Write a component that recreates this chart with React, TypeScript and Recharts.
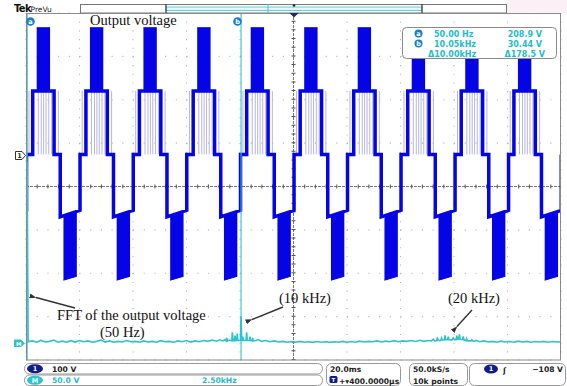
import { ComposedChart, Line, Area, XAxis, YAxis, CartesianGrid, ReferenceLine } from 'recharts'

const WIDTH = 567
const HEIGHT = 386
const MARGIN = { top: 13, right: 6, bottom: 26, left: 26 }

// scope settings
const H_DIVS = 10
const V_DIVS = 8
const TIME_SPAN_MS = 200
const CH1_VOLTS_PER_DIV = 100
const CH1_GROUND_DIV = 0.74 // ch1 ground marker sits 0.74 div above centre
const FFT_VOLTS_PER_DIV = 50
const FFT_GROUND_DIV = -3.61 // math ground marker, below centre
const FFT_SPAN_KHZ = 25

// output voltage: centre of the positive top band of every cycle (ms from left edge)
const CYCLE_CENTERS_MS = [-13.5, 6.5, 26.4, 46.4, 66.5, 86.5, 106.5, 126.5, 146.7, 166.7, 186.4]
// levels (V)
const LEVEL_P2 = 292
const LEVEL_P1 = 146
const LEVEL_N1 = [-144, -129] // sags across the negative half
const BAND_N_TOP = [-141, -131]
const BAND_N_BOTTOM = [-290, -281]
// edges, ms relative to cycle centre
const P1_EDGES = [-4.0, 4.0]
const N1_EDGES = [6.3, 13.7]
const P2_BAND = [-2.5, 2.5]
const N2_BAND = [7.5, 12.5]
const PULSE_OFFSETS = [-5.4, -1.9, -0.8, 0.1, 1.0, 2.0, 3.1, 5.6]

// FFT of output voltage: [kHz, V]
const FFT_POINTS: [number, number][] = [
  [0, 1.5], [0.05, 208.9], [0.1, 1.5], [0.3, 2.5], [0.5, 1], [0.7, 3], [0.9, 1.2], [1.1, 2], [1.3, 3.5], [1.5, 1],
  [1.7, 2.2], [1.9, 1], [2.1, 2.8], [2.3, 1.2], [2.5, 3], [2.7, 1.5], [2.9, 2.5], [3.1, 1], [3.3, 2], [3.5, 3.5],
  [3.7, 1.2], [3.9, 2.5], [4.1, 1], [4.3, 2], [4.5, 1.2], [4.7, 3], [4.9, 1.5], [5.1, 2], [5.3, 1], [5.5, 2.5],
  [5.7, 1.2], [5.9, 2], [6.1, 1], [6.3, 2.8], [6.5, 1.5], [6.7, 2], [6.9, 1], [7.1, 2.5], [7.3, 1.5], [7.5, 3],
  [7.7, 1.2], [7.9, 2.5], [8.1, 1.5], [8.3, 3], [8.5, 2], [8.7, 3.5], [8.9, 2.2], [9.05, 3.8], [9.2, 2.5], [9.3, 4],
  [9.36, 2.5], [9.38, 6], [9.42, 2.5], [9.5, 3.5], [9.62, 2.5], [9.64, 12.5], [9.68, 3], [9.74, 2.5], [9.77, 8.6], [9.8, 3],
  [9.85, 3], [9.87, 11], [9.9, 3], [10.02, 3], [10.05, 30.4], [10.08, 3], [10.11, 3], [10.13, 7.5], [10.16, 3], [10.28, 3],
  [10.31, 12.5], [10.34, 3], [10.44, 3], [10.47, 7.5], [10.5, 3], [10.57, 2.5], [10.59, 6], [10.62, 2.5], [10.75, 3], [10.86, 4],
  [11.0, 2], [11.2, 3], [11.4, 1.5], [11.6, 2.5], [11.8, 1.2], [12.0, 2], [12.2, 1], [12.4, 1.8], [12.6, 1], [12.8, 2],
  [13.0, 1], [13.2, 1.5], [13.4, 0.8], [13.6, 1.8], [13.8, 1], [14.0, 1.5], [14.2, 0.8], [14.4, 1.5], [14.6, 1], [14.8, 2],
  [15.0, 1], [15.2, 1.8], [15.4, 1], [15.6, 2.2], [15.8, 1.2], [16.0, 2], [16.2, 1.5], [16.4, 2.5], [16.6, 1.2], [16.8, 2.2],
  [17.0, 1.5], [17.2, 2.8], [17.4, 1.5], [17.6, 2.5], [17.8, 2], [18.0, 3], [18.2, 1.8], [18.4, 3.2], [18.6, 2], [18.8, 3],
  [18.95, 2.5], [19.03, 4.5], [19.1, 2.5], [19.2, 3], [19.22, 6.7], [19.26, 3], [19.38, 3], [19.42, 5.8], [19.46, 3.5], [19.55, 3.5],
  [19.58, 9], [19.61, 4], [19.7, 4], [19.73, 7.5], [19.76, 4], [19.9, 3.5], [19.97, 6], [20.02, 4], [20.1, 4], [20.13, 8.6],
  [20.17, 4.5], [20.22, 4.5], [20.25, 10], [20.29, 4.5], [20.4, 4], [20.43, 7.7], [20.47, 3.5], [20.56, 3], [20.59, 5.2], [20.63, 2.5],
  [20.8, 2.5], [20.83, 3.7], [20.9, 2], [21.06, 2.9], [21.2, 1.5], [21.4, 2.5], [21.6, 1.2], [21.8, 2], [22.0, 1], [22.2, 2.2],
  [22.4, 1.2], [22.6, 1.8], [22.8, 1], [23.0, 2.2], [23.2, 1.2], [23.4, 2], [23.6, 1], [23.8, 1.8], [24.0, 1.2], [24.2, 2],
  [24.4, 1], [24.6, 1.8], [24.8, 1.2], [25.0, 1.5],
]
const CURSOR_A_KHZ = 0.05
const CURSOR_B_KHZ = 10.05

const BLUE = '#0404e6'
const CYAN = '#2cc4ce'
const NAVY = '#101c8c'
const UI_FONT = '"DejaVu Sans", sans-serif'
const SERIF = '"Liberation Serif", "Times New Roman", serif'

const outlineData = CYCLE_CENTERS_MS.flatMap(c => [
  { t: c + P1_EDGES[0], v: 0 },
  { t: c + P1_EDGES[0], v: LEVEL_P1 },
  { t: c + P1_EDGES[1], v: LEVEL_P1 },
  { t: c + P1_EDGES[1], v: 0 },
  { t: c + N1_EDGES[0], v: 0 },
  { t: c + N1_EDGES[0], v: LEVEL_N1[0] },
  { t: c + N1_EDGES[1], v: LEVEL_N1[1] },
  { t: c + N1_EDGES[1], v: 0 },
])

const bandData = CYCLE_CENTERS_MS.flatMap(c => [
  { t: c + P2_BAND[0], r: [LEVEL_P1, LEVEL_P2] },
  { t: c + P2_BAND[1], r: [LEVEL_P1, LEVEL_P2] },
  { t: c + P2_BAND[1], r: null },
  { t: c + N2_BAND[0], r: [BAND_N_BOTTOM[0], BAND_N_TOP[0]] },
  { t: c + N2_BAND[1], r: [BAND_N_BOTTOM[1], BAND_N_TOP[1]] },
  { t: c + N2_BAND[1], r: null },
])

const pulseData = CYCLE_CENTERS_MS.flatMap(c =>
  PULSE_OFFSETS.flatMap(o => [
    { t: c + o, v: 0 },
    { t: c + o, v: LEVEL_P1 },
    { t: c + o, v: null },
  ])
)

const fftData = FFT_POINTS.map(([f, v]) => ({ f, v }))

const ch1Domain = [(-V_DIVS / 2 - CH1_GROUND_DIV) * CH1_VOLTS_PER_DIV, (V_DIVS / 2 - CH1_GROUND_DIV) * CH1_VOLTS_PER_DIV]
const fftDomain = [(-V_DIVS / 2 - FFT_GROUND_DIV) * FFT_VOLTS_PER_DIV, (V_DIVS / 2 - FFT_GROUND_DIV) * FFT_VOLTS_PER_DIV]
const centreVolts = -CH1_GROUND_DIV * CH1_VOLTS_PER_DIV

// graticule lines at every division of the plot box
const hGrid = ({ offset }: any) => Array.from({ length: V_DIVS + 1 }, (_, k) => offset.top + (offset.height * k) / V_DIVS)
const vGrid = ({ offset }: any) => Array.from({ length: H_DIVS + 1 }, (_, k) => offset.left + (offset.width * k) / H_DIVS)

function Badge({ cx, cy, label, fill, rx = 4.3, ry = 4.3 }: any) {
  return (
    <g>
      <ellipse cx={cx} cy={cy} rx={rx} ry={ry} fill={fill} />
      <text x={cx} y={cy + 2.3} textAnchor="middle" fontSize={6.5} fontWeight="bold" fill="#fff" fontFamily={UI_FONT}>
        {label}
      </text>
    </g>
  )
}

function Overlay() {
  const small = { fontFamily: UI_FONT, fontSize: 7.6, fontWeight: 'bold' as const }
  const meas = { fontFamily: UI_FONT, fontSize: 8, fontWeight: 'bold' as const, fill: '#22bccb' }
  return (
    <svg width={WIDTH} height={HEIGHT} style={{ position: 'absolute', left: 0, top: 0, pointerEvents: 'none' }}>
      <defs>
        <marker id="ah" markerUnits="userSpaceOnUse" markerWidth="7" markerHeight="5" refX="0.5" refY="2.5" orient="auto">
          <path d="M7,0 L0,2.5 L7,5 Z" fill="#333" />
        </marker>
      </defs>

      {/* header */}
      <rect x={507} y={0} width={60} height={13} fill="#faf0f5" />
      <text x={14} y={12} fontFamily={UI_FONT} fontSize={10} fontWeight="bold" letterSpacing={-0.7} fill="#111">Tek</text>
      <text x={30.5} y={11.5} fontFamily={UI_FONT} fontSize={7.5} fill="#222">PreVu</text>
      <rect x={80.5} y={4.5} width={426} height={8.5} fill="#fff" stroke="#777" />
      <rect x={166} y={7} width={256} height={3.5} fill="#e4f8fa" stroke="#39c5d0" strokeWidth={0.8} />
      <line x1={166} y1={4} x2={166} y2={13} stroke="#333" strokeWidth={1.2} />
      <line x1={422} y1={4} x2={422} y2={13} stroke="#333" strokeWidth={1.2} />
      <line x1={268} y1={4} x2={268} y2={13} stroke="#39c5d0" strokeWidth={1} />
      <circle cx={294} cy={5.5} r={1.3} fill="#223" />

      {/* plot frame */}
      <rect x={26.5} y={13.5} width={534} height={346.5} fill="none" stroke="#8a8a8a" />
      <path d="M289.5,13 L298.5,13 L294,17.5 Z" fill="#1a2a6a" />

      {/* cursor badges */}
      <Badge cx={30.5} cy={21.5} label="a" fill="#1b7fc4" />
      <Badge cx={237.5} cy={21.5} label="b" fill="#1b7fc4" />

      {/* titles / annotations */}
      <text x={90} y={24.5} fontFamily={SERIF} fontSize={14.5} fill="#111">Output voltage</text>
      <text x={57} y={320} fontFamily={SERIF} fontSize={14.5} fill="#111">FFT of the output voltage</text>
      <text x={100} y={337} fontFamily={SERIF} fontSize={14.5} fill="#111">(50 Hz)</text>
      <text x={279} y={303} fontFamily={SERIF} fontSize={14.5} fill="#111">(10 kHz)</text>
      <text x={448} y={303} fontFamily={SERIF} fontSize={14.5} fill="#111">(20 kHz)</text>
      <line x1={75} y1={308} x2={36} y2={297.5} stroke="#333" strokeWidth={1.4} markerEnd="url(#ah)" />
      <line x1={283} y1={307} x2={252} y2={319.5} stroke="#333" strokeWidth={1.4} markerEnd="url(#ah)" />
      <line x1={472} y1={310} x2={457} y2={326.5} stroke="#333" strokeWidth={1.4} markerEnd="url(#ah)" />

      {/* measurement readout */}
      <rect x={402.5} y={27.5} width={154} height={31} rx={4} fill="#fff" stroke="#8a8a8a" />
      <Badge cx={418.5} cy={33.5} label="a" fill="#1b7fc4" rx={4} ry={4} />
      <Badge cx={418.5} cy={43.5} label="b" fill="#1b7fc4" rx={4} ry={4} />
      <text x={434} y={36.5} {...meas}>50.00 Hz</text>
      <text x={542} y={36.5} textAnchor="end" {...meas}>208.9 V</text>
      <text x={434} y={46.5} {...meas}>10.05kHz</text>
      <text x={542} y={46.5} textAnchor="end" {...meas}>30.44 V</text>
      <text x={428} y={56.5} {...meas}>Δ10.00kHz</text>
      <text x={545} y={56.5} textAnchor="end" {...meas}>Δ178.5 V</text>

      {/* ground markers */}
      <path d="M15.5,151.5 L22,151.5 L25.5,155.5 L22,159.5 L15.5,159.5 Z" fill="#fff" stroke="#333" />
      <text x={19.5} y={158} textAnchor="middle" fontFamily={UI_FONT} fontSize={6.5} fontWeight="bold" fill="#222">1</text>
      <path d="M14,339.5 L21,339.5 L25,343.3 L21,347 L14,347 Z" fill={CYAN} />
      <text x={18.8} y={345.8} textAnchor="middle" fontFamily={UI_FONT} fontSize={5.5} fontWeight="bold" fill="#fff">M</text>

      {/* status bar */}
      <rect x={24.5} y={363.5} width={298} height={10.5} rx={5} fill="#fff" stroke="#999" />
      <rect x={24.5} y={375} width={298} height={10.5} rx={5} fill="#fff" stroke="#999" />
      <Badge cx={35} cy={368.7} label="1" fill={NAVY} rx={8} ry={4.5} />
      <text x={52} y={371.5} {...small} fill="#222">100 V</text>
      <Badge cx={35} cy={380.2} label="M" fill={CYAN} rx={8} ry={4.5} />
      <text x={52} y={383} {...small} fill="#22bccb">50.0 V</text>
      <text x={202} y={383} {...small} fill="#22bccb">2.50kHz</text>

      <rect x={326.5} y={363.5} width={74} height={22} rx={5} fill="#fff" stroke="#999" />
      <text x={330} y={372} {...small} fill="#222">20.0ms</text>
      <rect x={329.5} y={376} width={8} height={7} rx={1.5} fill={NAVY} />
      <text x={333.5} y={382} textAnchor="middle" fontFamily={UI_FONT} fontSize={5.5} fontWeight="bold" fill="#fff">T</text>
      <text x={339} y={383.5} {...small} fill="#222">+▾400.0000µs</text>

      <rect x={409.5} y={363.5} width={58} height={22} rx={5} fill="#fff" stroke="#999" />
      <text x={413} y={372} {...small} fill="#222">50.0kS/s</text>
      <text x={413} y={383.5} {...small} fill="#222">10k points</text>

      <rect x={469.5} y={363.5} width={96} height={22} rx={5} fill="#fff" stroke="#999" />
      <Badge cx={491} cy={369} label="1" fill={NAVY} rx={7} ry={4.5} />
      <text x={503} y={372.5} {...small} fill="#222">ʃ</text>
      <text x={563} y={372} textAnchor="end" {...small} fill="#222">−108 V</text>
    </svg>
  )
}

export default function App() {
  return (
    <div style={{ position: 'fixed', left: 0, top: 0, width: WIDTH, height: HEIGHT, background: '#fff', overflow: 'hidden' }}>
      <ComposedChart width={WIDTH} height={HEIGHT} margin={MARGIN} style={{ position: 'absolute', left: 0, top: 0 }}>
        <XAxis xAxisId="t" dataKey="t" type="number" domain={[0, TIME_SPAN_MS]} allowDataOverflow hide />
        <XAxis xAxisId="f" dataKey="f" type="number" domain={[0, FFT_SPAN_KHZ]} allowDataOverflow hide />
        <YAxis yAxisId="v" type="number" domain={ch1Domain} allowDataOverflow hide />
        <YAxis yAxisId="m" type="number" domain={fftDomain} allowDataOverflow hide />

        {/* dotted graticule */}
        <CartesianGrid xAxisId="t" yAxisId="v" vertical={false} horizontalCoordinatesGenerator={hGrid}
          stroke="#b4b4b4" strokeWidth={1.1} strokeDasharray="1.1 9.6" />
        <CartesianGrid xAxisId="t" yAxisId="v" horizontal={false} verticalCoordinatesGenerator={vGrid}
          stroke="#b4b4b4" strokeWidth={1.1} strokeDasharray="1.1 7.575" />
        <ReferenceLine xAxisId="t" yAxisId="v" y={centreVolts} stroke="#555" strokeWidth={0.8} strokeDasharray="3 1" />
        <ReferenceLine xAxisId="t" yAxisId="v" y={centreVolts} stroke="#555" strokeWidth={4} strokeDasharray="1 9.7" />
        <ReferenceLine xAxisId="t" yAxisId="v" x={TIME_SPAN_MS / 2} stroke="#555" strokeWidth={0.8} strokeDasharray="3 1" />
        <ReferenceLine xAxisId="t" yAxisId="v" x={TIME_SPAN_MS / 2} stroke="#555" strokeWidth={4} strokeDasharray="1 7.675" />

        <Line xAxisId="t" yAxisId="v" data={pulseData} dataKey="v" type="linear" stroke="#b6b6de" strokeWidth={1}
          dot={false} activeDot={false} connectNulls={false} isAnimationActive={false} />
        <Area xAxisId="t" yAxisId="v" data={bandData} dataKey="r" type="linear" stroke={BLUE} strokeWidth={1}
          fill={BLUE} fillOpacity={1} dot={false} activeDot={false} connectNulls={false} isAnimationActive={false} />
        <Line xAxisId="t" yAxisId="v" data={outlineData} dataKey="v" type="linear" stroke={BLUE} strokeWidth={3.5}
          strokeLinejoin="miter" dot={false} activeDot={false} isAnimationActive={false} />

        <ReferenceLine xAxisId="f" yAxisId="m" x={CURSOR_A_KHZ} stroke={CYAN} strokeWidth={1.3} />
        <ReferenceLine xAxisId="f" yAxisId="m" x={CURSOR_B_KHZ} stroke={CYAN} strokeWidth={1.1} />
        <Line xAxisId="f" yAxisId="m" data={fftData} dataKey="v" type="linear" stroke={CYAN} strokeWidth={1.6}
          dot={false} activeDot={false} isAnimationActive={false} />
      </ComposedChart>
      <Overlay />
    </div>
  )
}
